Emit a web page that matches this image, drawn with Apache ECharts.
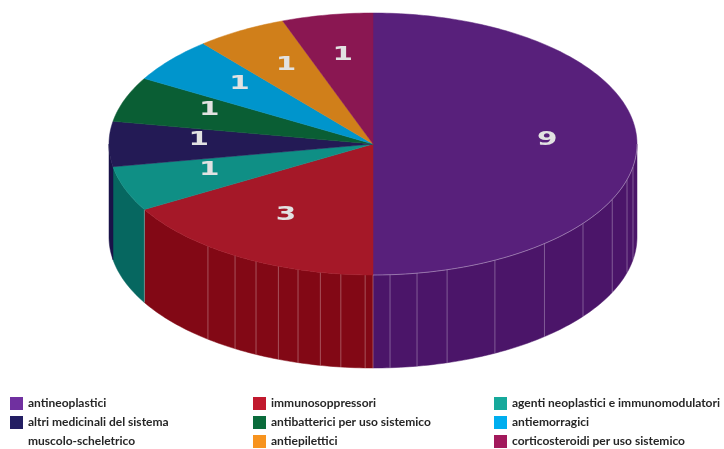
<!DOCTYPE html>
<html><head><meta charset="utf-8">
<script src="https://cdn.jsdelivr.net/npm/echarts@6/dist/echarts.min.js"></script>
<style>html,body{margin:0;padding:0;background:#fff}#c{width:724px;height:449px}</style>
</head><body><div id="c"></div>
<script>
// ---- data ----
const categories = ['antineoplastici','immunosoppressori','agenti neoplastici e immunomodulatori','altri medicinali del sistema muscolo-scheletrico','antibatterici per uso sistemico','antiemorragici','antiepilettici','corticosteroidi per uso sistemico'];
const values = [9, 3, 1, 1, 1, 1, 1, 1];
const legendFirstLine = ['antineoplastici','immunosoppressori','agenti neoplastici e immunomodulatori','altri medicinali del sistema','antibatterici per uso sistemico','antiemorragici','antiepilettici','corticosteroidi per uso sistemico'];
const legendSecondLine = 'muscolo-scheletrico';

// ---- style ----
const topColors = ['#58207b','#a51828','#0f8f85','#231a55','#0a5e34','#0095cc','#d07f1a','#8a1752'];
const sideColors = ['#4b1569','#820815','#066760','#1a1248','#07472a','#00709a','#9d5f13','#67113d'];
const legendColors = ['#7030a0','#c1192e','#16a99b','#231e63','#0a6b3b','#00aeef','#f7931e','#a2195c'];
const legendColumns = [[0,3],[1,4,6],[2,5,7]];
const legendLefts = [10, 253, 494];
const G = {cx:373, cy:144, rx:264, ry:131, depth:93, labelR:0.66, labelDy:-4};
const facetAngles = [100,105.8,115,127.3,139.5,152.5,163.7,170.4,176.3,180,181.7,187,191.5,196.5,201,206.3,211.5,218.7,240];

const total = values.reduce((a,b)=>a+b,0);
const starts = []; { let acc = 0; values.forEach(v => { starts.push(acc/total*360); acc += v; }); }

function pt(deg, dy){ const r = deg*Math.PI/180; return [G.cx + G.rx*Math.sin(r), G.cy - G.ry*Math.cos(r) + (dy||0)]; }
function arc(a0, a1, dy){ const n = Math.max(2, Math.ceil(a1-a0)); const out = []; for (let i=0;i<=n;i++) out.push(pt(a0+(a1-a0)*i/n, dy)); return out; }

function renderItem(params, api){
  const i = params.dataIndex;
  const v = api.value(0);
  const a0 = starts[i], a1 = a0 + v/total*360;
  const children = [];
  const s0 = Math.max(a0, 90), s1 = Math.min(a1, 270);
  if (s1 > s0){
    const top = arc(s0, s1, 0), bot = arc(s0, s1, G.depth).reverse();
    children.push({type:'polygon', z2:1, shape:{points: top.concat(bot)}, style:{fill: sideColors[i], stroke: sideColors[i], lineWidth:0.5}});
    facetAngles.forEach(a => {
      if (a > s0 && a < s1 || (a === s0 && a !== 90)) {
        const p = pt(a, 0);
        children.push({type:'line', z2:2, shape:{x1:p[0], y1:p[1], x2:p[0], y2:p[1]+G.depth}, style:{stroke:'rgba(255,255,255,0.3)', lineWidth:1}});
      }
    });
  }
  children.push({type:'polygon', z2:10, shape:{points: [[G.cx, G.cy]].concat(arc(a0, a1, 0))}, style:{fill: topColors[i], stroke: topColors[i], lineWidth:0.5}});
  if (i === 0) {
    children.push({type:'polyline', z2:11, shape:{points: arc(90, 180, 0)}, style:{stroke:'rgba(255,255,255,0.35)', lineWidth:1, fill:null}});
  }
  const m = (a0 + a1)/2 * Math.PI/180;
  children.push({type:'text', z2:20, x: G.cx + G.rx*G.labelR*Math.sin(m), y: G.cy - G.ry*G.labelR*Math.cos(m) + G.labelDy,
    scaleX:1.55,
    style:{text: String(v), font:'bold 19px "DejaVu Sans"', fill:'#e2e2e2', align:'center', verticalAlign:'middle'}});
  return {type:'group', children};
}

const series = [{
  type:'custom', name:'pie3d', coordinateSystem:'none', renderItem,
  data: values.map((v,i)=>({value:[v], name: categories[i]})),
  silent:true
}];
categories.forEach((c,i)=>series.push({type:'custom', name:c, coordinateSystem:'none', data:[], renderItem:()=>({type:'group', children:[]}), itemStyle:{color:legendColors[i]}}));

const legends = legendColumns.map((col,k)=>({
  orient:'vertical', left:legendLefts[k], top:397, height:80, padding:0, itemWidth:13, itemHeight:13, itemGap:6, icon:'rect',
  selectedMode:false, data: col.map(i=>categories[i]),
  formatter: n => legendFirstLine[categories.indexOf(n)],
  textStyle:{fontFamily:'Lato', fontWeight:'bold', fontSize:12, color:'#262626', lineHeight:13}
}));

const chart = echarts.init(document.getElementById('c'), null, {renderer:'canvas'});
chart.setOption({
  animation:false,
  backgroundColor:'#fff',
  legend: legends,
  graphic:[{type:'text', left:28, top:435, style:{text: legendSecondLine, font:'bold 12px Lato', fill:'#262626'}}],
  series
});
</script></body></html>
